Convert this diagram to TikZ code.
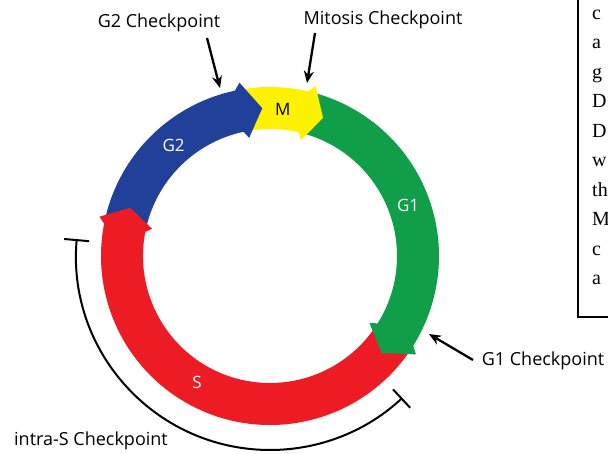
\documentclass[tikz,border=0pt]{standalone}
\usepackage{fontspec}
\newfontfamily\labfont{Open Sans}
\newfontfamily\boxfont{Liberation Serif}
\usetikzlibrary{arrows.meta,calc}
\definecolor{cblue}{RGB}{33,64,154}
\definecolor{cyellow}{RGB}{255,242,0}
\definecolor{cgreen}{RGB}{16,158,72}
\definecolor{cred}{RGB}{237,28,36}
\begin{document}
\begin{tikzpicture}[x=1pt,y=1pt,
  cplabel/.style={font=\labfont\fontsize{18}{20}\selectfont, inner sep=0pt},
  phaselabel/.style={font=\labfont\fontsize{17}{19}\selectfont, inner sep=0pt},
  boxtext/.style={font=\boxfont\fontsize{20}{24}\selectfont, inner sep=0pt, anchor=base west},
  cparrow/.style={line width=2.3pt, -{Stealth[length=12pt,width=10pt]}},
  bracket/.style={line width=2pt, {Bar[width=25pt]}-{Bar[width=25pt]}}]
\useasboundingbox (0,0) rectangle (608,-453);
\fill[white] (0,0) rectangle (608,-453);
\begin{scope}[shift={(270,-256)}]
  \def\Ro{169}\def\Ri{127}\def\Rm{148}
  % bands
  \fill[cblue] (167:\Ro) arc[start angle=167,end angle=100,radius=\Ro] -- (100:\Ri) arc[start angle=100,end angle=167,radius=\Ri] -- cycle;
  \fill[cyellow] (100:\Ro) arc[start angle=100,end angle=75,radius=\Ro] -- (75:\Ri) arc[start angle=75,end angle=100,radius=\Ri] -- cycle;
  \fill[cgreen] (75:\Ro) arc[start angle=75,end angle=-34,radius=\Ro] -- (-34:\Ri) arc[start angle=-34,end angle=75,radius=\Ri] -- cycle;
  \fill[cred] (-34:\Ro) arc[start angle=-34,end angle=-193,radius=\Ro] -- (-193:\Ri) arc[start angle=-193,end angle=-34,radius=\Ri] -- cycle;
  % arrow heads (polygon reaches a little back to hide the seams)
  \fill[cblue] (102:\Ro) -- (100:{\Ro+7}) -- (93:\Rm) -- (100:{\Ri-7}) -- (102:\Ri) -- cycle;
  \fill[cyellow] (77:\Ro) -- (75:{\Ro+7}) -- (69:\Rm) -- (75:{\Ri-7}) -- (77:\Ri) -- cycle;
  \fill[cgreen] (-32:\Ro) -- (-34:{\Ro+7}) -- (-41:\Rm) -- (-34:{\Ri-7}) -- (-32:\Ri) -- cycle;
  \fill[cred] (169:\Ro) -- (167:{\Ro+6}) -- (161:\Rm) -- (167:{\Ri-6}) -- (169:\Ri) -- cycle;
  % phase labels
  \node[phaselabel, text=white] (g2) at (131:147) {G2};
  \node[phaselabel, text=black] (m) at (85:147) {M};
  \node[phaselabel, text=white] (g1) at (20:147) {G1};
  \node[phaselabel, text=white] (s) at (240:146) {S};
  % intra-S bracket
  \draw[bracket] (175:194) arc[start angle=175,end angle=313,radius=194];
\end{scope}
% checkpoint labels
\node[cplabel] (g2cp) at (159,-23) {G2 Checkpoint};
\node[cplabel] (mcp) at (383,-20) {Mitosis Checkpoint};
\node[cplabel] (g1cp) at (543,-361) {G1 Checkpoint};
\node[cplabel] (scp) at (91,-441) {intra-S Checkpoint};
% checkpoint arrows
\coordinate (g2a) at (207,-38);  \coordinate (g2b) at (220,-88);
\coordinate (ma) at (315,-33);   \coordinate (mb) at (307,-83);
\coordinate (g1a) at (473,-360); \coordinate (g1b) at (429,-334);
\draw[cparrow] (g2a) -- (g2b);
\draw[cparrow] (ma) -- (mb);
\draw[cparrow] (g1a) -- (g1b);
% text box (cut off at right)
\draw[line width=1.5pt] (578,5) -- (578,-317) -- (615,-317);
\node[boxtext] (t1) at (592,-19) {c};
\node[boxtext] (t2) at (592,-48.5) {a};
\node[boxtext] (t3) at (592,-78) {g};
\node[boxtext] (t4) at (592,-107.5) {D};
\node[boxtext] (t5) at (592,-137) {D};
\node[boxtext] (t6) at (592,-166.5) {w};
\node[boxtext] (t7) at (592,-196) {th};
\node[boxtext] (t8) at (592,-225.5) {M};
\node[boxtext] (t9) at (592,-255) {c};
\node[boxtext] (t10) at (592,-284.5) {a};
\end{tikzpicture}
\end{document}
